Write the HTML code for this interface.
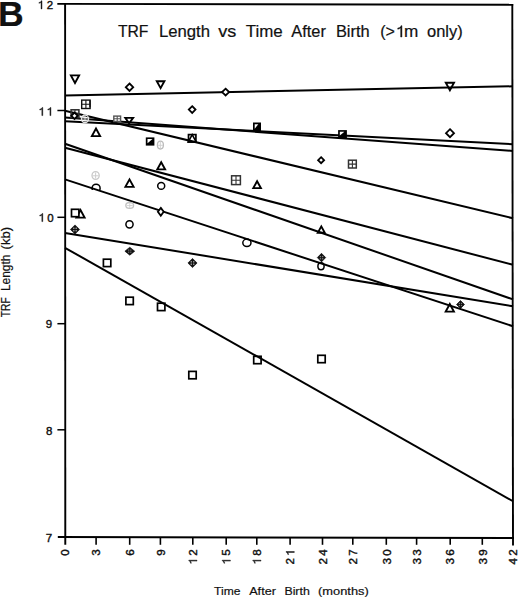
<!DOCTYPE html><html><head><meta charset="utf-8"><style>
html,body{margin:0;padding:0;background:#fff;width:520px;height:599px;overflow:hidden}
svg{display:block}text{font-family:"Liberation Sans",sans-serif;fill:#111;stroke:#111;stroke-width:0.2px}.tl{stroke-width:0.4px}
</style></head><body>
<svg width="520" height="599" viewBox="0 0 520 599">
<rect width="520" height="599" fill="#fff"/>
<text x="-2.0" y="25.8" font-size="35.6" font-weight="bold" fill="#000">B</text>
<text x="117.9" y="37.0" font-size="16" textLength="30.6" lengthAdjust="spacingAndGlyphs">TRF</text>
<text x="158.9" y="37.0" font-size="16" textLength="51.1" lengthAdjust="spacingAndGlyphs">Length</text>
<text x="218.2" y="37.0" font-size="16" textLength="18.1" lengthAdjust="spacingAndGlyphs">vs</text>
<text x="245.7" y="37.0" font-size="16" textLength="37.0" lengthAdjust="spacingAndGlyphs">Time</text>
<text x="291.3" y="37.0" font-size="16" textLength="34.6" lengthAdjust="spacingAndGlyphs">After</text>
<text x="335.9" y="37.0" font-size="16" textLength="33.8" lengthAdjust="spacingAndGlyphs">Birth</text>
<text x="380.2" y="37.0" font-size="16">(&gt;</text>
<polygon points="401.95,37.00 401.95,25.67 401.01,25.67 400.74,26.52 400.19,27.11 399.28,27.64 397.74,28.10 397.74,29.19 398.88,28.92 399.84,28.52 400.66,28.04 400.66,37.00" fill="#111" stroke="#111" stroke-width="0.45" stroke-linejoin="round"/>
<text x="404.0" y="37.0" font-size="16" textLength="14.3" lengthAdjust="spacingAndGlyphs">m</text>
<text x="427.0" y="37.0" font-size="16" textLength="35.7" lengthAdjust="spacingAndGlyphs">only)</text>
<g stroke="#000" stroke-width="1.9" fill="none" stroke-linecap="butt">
<line x1="57.3" y1="3.9" x2="513.2" y2="4.8"/>
<line x1="65.1" y1="3" x2="65.3" y2="544.8"/>
<line x1="512.3" y1="3.9" x2="513" y2="545.5"/>
<line x1="57.8" y1="537" x2="514" y2="538"/>
<line x1="57.4" y1="110.5" x2="65" y2="110.5" stroke-width="1.5"/>
<line x1="57.4" y1="217.3" x2="65" y2="217.3" stroke-width="1.5"/>
<line x1="57.4" y1="323.7" x2="65" y2="323.7" stroke-width="1.5"/>
<line x1="57.4" y1="429.8" x2="65" y2="429.8" stroke-width="1.5"/>
<line x1="96.1" y1="537" x2="96.1" y2="544.8" stroke-width="1.6"/>
<line x1="129.7" y1="537" x2="129.7" y2="544.8" stroke-width="1.6"/>
<line x1="160.4" y1="537" x2="160.4" y2="544.8" stroke-width="1.6"/>
<line x1="192.8" y1="537" x2="192.8" y2="544.8" stroke-width="1.6"/>
<line x1="226.2" y1="537" x2="226.2" y2="544.8" stroke-width="1.6"/>
<line x1="256.8" y1="537" x2="256.8" y2="544.8" stroke-width="1.6"/>
<line x1="290.1" y1="537" x2="290.1" y2="544.8" stroke-width="1.6"/>
<line x1="322.5" y1="537" x2="322.5" y2="544.8" stroke-width="1.6"/>
<line x1="352.8" y1="537" x2="352.8" y2="544.8" stroke-width="1.6"/>
<line x1="386.3" y1="537" x2="386.3" y2="544.8" stroke-width="1.6"/>
<line x1="416.6" y1="537" x2="416.6" y2="544.8" stroke-width="1.6"/>
<line x1="450.2" y1="537" x2="450.2" y2="544.8" stroke-width="1.6"/>
<line x1="482.3" y1="537" x2="482.3" y2="544.8" stroke-width="1.6"/>
</g>
<polygon points="41.98,8.90 41.98,0.76 41.30,0.76 41.10,1.37 40.71,1.79 40.06,2.17 38.95,2.51 38.95,3.29 39.77,3.09 40.46,2.80 41.05,2.46 41.05,8.90" fill="#111" stroke="#111" stroke-width="0.45" stroke-linejoin="round"/>
<text x="46.70" y="8.9" font-size="11.5" class="tl">2</text>
<polygon points="42.78,115.60 42.78,107.46 42.10,107.46 41.90,108.07 41.51,108.49 40.86,108.87 39.75,109.21 39.75,109.99 40.57,109.79 41.26,109.50 41.85,109.16 41.85,115.60" fill="#111" stroke="#111" stroke-width="0.45" stroke-linejoin="round"/>
<polygon points="50.88,115.60 50.88,107.46 50.20,107.46 50.00,108.07 49.61,108.49 48.96,108.87 47.85,109.21 47.85,109.99 48.67,109.79 49.36,109.50 49.95,109.16 49.95,115.60" fill="#111" stroke="#111" stroke-width="0.45" stroke-linejoin="round"/>
<polygon points="42.78,221.60 42.78,213.46 42.10,213.46 41.90,214.07 41.51,214.49 40.86,214.87 39.75,215.21 39.75,215.99 40.57,215.79 41.26,215.50 41.85,215.16 41.85,221.60" fill="#111" stroke="#111" stroke-width="0.45" stroke-linejoin="round"/>
<text x="47.25" y="221.6" font-size="11.5" class="tl">0</text>
<text x="52.2" y="328.4" font-size="11.5" class="tl" text-anchor="end">9</text>
<text x="52.3" y="434.5" font-size="11.5" class="tl" text-anchor="end">8</text>
<text x="52.2" y="541.6" font-size="11.5" class="tl" text-anchor="end">7</text>
<text transform="translate(69.3,549.4) rotate(-90)" font-size="11.6" class="tl" text-anchor="end">0</text>
<text transform="translate(100.3,549.4) rotate(-90)" font-size="11.6" class="tl" text-anchor="end">3</text>
<text transform="translate(133.9,549.4) rotate(-90)" font-size="11.6" class="tl" text-anchor="end">6</text>
<text transform="translate(164.6,549.4) rotate(-90)" font-size="11.6" class="tl" text-anchor="end">9</text>
<g transform="translate(197.0,549.4) rotate(-90)"><polygon points="-10.78,0.00 -10.78,-8.21 -11.47,-8.21 -11.67,-7.60 -12.06,-7.17 -12.72,-6.79 -13.83,-6.45 -13.83,-5.66 -13.01,-5.86 -12.32,-6.15 -11.72,-6.50 -11.72,0.00" fill="#111" stroke="#111" stroke-width="0.45" stroke-linejoin="round"/><text x="-6.45" y="0" font-size="11.6" class="tl">2</text></g>
<g transform="translate(230.4,549.4) rotate(-90)"><polygon points="-10.78,0.00 -10.78,-8.21 -11.47,-8.21 -11.67,-7.60 -12.06,-7.17 -12.72,-6.79 -13.83,-6.45 -13.83,-5.66 -13.01,-5.86 -12.32,-6.15 -11.72,-6.50 -11.72,0.00" fill="#111" stroke="#111" stroke-width="0.45" stroke-linejoin="round"/><text x="-6.45" y="0" font-size="11.6" class="tl">5</text></g>
<g transform="translate(261.0,549.4) rotate(-90)"><polygon points="-10.78,0.00 -10.78,-8.21 -11.47,-8.21 -11.67,-7.60 -12.06,-7.17 -12.72,-6.79 -13.83,-6.45 -13.83,-5.66 -13.01,-5.86 -12.32,-6.15 -11.72,-6.50 -11.72,0.00" fill="#111" stroke="#111" stroke-width="0.45" stroke-linejoin="round"/><text x="-6.45" y="0" font-size="11.6" class="tl">8</text></g>
<g transform="translate(294.3,549.4) rotate(-90)"><text x="-15.10" y="0" font-size="11.6" class="tl">2</text><polygon points="-2.13,0.00 -2.13,-8.21 -2.82,-8.21 -3.02,-7.60 -3.41,-7.17 -4.07,-6.79 -5.19,-6.45 -5.19,-5.66 -4.36,-5.86 -3.67,-6.15 -3.07,-6.50 -3.07,0.00" fill="#111" stroke="#111" stroke-width="0.45" stroke-linejoin="round"/></g>
<g transform="translate(326.7,549.4) rotate(-90)"><text x="-15.10" y="0" font-size="11.6" class="tl">2</text><text x="-6.45" y="0" font-size="11.6" class="tl">4</text></g>
<g transform="translate(357.0,549.4) rotate(-90)"><text x="-15.10" y="0" font-size="11.6" class="tl">2</text><text x="-6.45" y="0" font-size="11.6" class="tl">7</text></g>
<g transform="translate(390.5,549.4) rotate(-90)"><text x="-15.10" y="0" font-size="11.6" class="tl">3</text><text x="-6.45" y="0" font-size="11.6" class="tl">0</text></g>
<g transform="translate(420.8,549.4) rotate(-90)"><text x="-15.10" y="0" font-size="11.6" class="tl">3</text><text x="-6.45" y="0" font-size="11.6" class="tl">3</text></g>
<g transform="translate(454.4,549.4) rotate(-90)"><text x="-15.10" y="0" font-size="11.6" class="tl">3</text><text x="-6.45" y="0" font-size="11.6" class="tl">6</text></g>
<g transform="translate(486.5,549.4) rotate(-90)"><text x="-15.10" y="0" font-size="11.6" class="tl">3</text><text x="-6.45" y="0" font-size="11.6" class="tl">9</text></g>
<g transform="translate(517.2,549.4) rotate(-90)"><text x="-15.10" y="0" font-size="11.6" class="tl">4</text><text x="-6.45" y="0" font-size="11.6" class="tl">2</text></g>
<text x="214.1" y="594.9" font-size="11.8" textLength="26.4" lengthAdjust="spacingAndGlyphs">Time</text>
<text x="249.2" y="594.9" font-size="11.8" textLength="26.7" lengthAdjust="spacingAndGlyphs">After</text>
<text x="284.4" y="594.9" font-size="11.8" textLength="25.4" lengthAdjust="spacingAndGlyphs">Birth</text>
<text x="318.1" y="594.9" font-size="11.8" textLength="50.7" lengthAdjust="spacingAndGlyphs">(months)</text>
<text transform="translate(10.3,317.2) rotate(-90)" font-size="12" textLength="19.9" lengthAdjust="spacingAndGlyphs">TRF</text>
<text transform="translate(10.3,291.1) rotate(-90)" font-size="12" textLength="36.5" lengthAdjust="spacingAndGlyphs">Length</text>
<text transform="translate(10.3,249.4) rotate(-90)" font-size="12" textLength="22.4" lengthAdjust="spacingAndGlyphs">(kb)</text>
<g stroke="#000" stroke-width="2.0" fill="none">
<line x1="65" y1="95.4" x2="513" y2="86.3"/>
<line x1="65" y1="110.8" x2="513" y2="218.3"/>
<line x1="65" y1="117.6" x2="513" y2="150.9"/>
<line x1="65" y1="121.3" x2="513" y2="144.2"/>
<line x1="65" y1="143.7" x2="513" y2="299.4"/>
<line x1="65" y1="147.7" x2="513" y2="264.8"/>
<line x1="65" y1="179.4" x2="513" y2="326.3"/>
<line x1="65" y1="232.9" x2="513" y2="306.3"/>
<line x1="65" y1="247.8" x2="513" y2="501.25"/>
</g>
<g><polygon points="70.9,75.4 79.1,75.4 75.0,82.9" fill="none" stroke="#000" stroke-width="1.9"/><polygon points="129.5,83.5 133.2,87.2 129.5,90.9 125.8,87.2" fill="#fff" stroke="#000" stroke-width="1.8"/><polygon points="156.8,81.2 164.4,81.2 160.6,88.1" fill="none" stroke="#000" stroke-width="1.9"/><polygon points="225.6,88.7 229.1,92.1 225.6,95.5 222.1,92.1" fill="#fff" stroke="#000" stroke-width="1.8"/><polygon points="445.8,82.8 454.0,82.8 449.9,90.3" fill="none" stroke="#000" stroke-width="1.9"/><rect x="81.7" y="100.1" width="8.4" height="8.4" fill="none" stroke="#111" stroke-width="1.4"/><path d="M81.7,104.3H90.1M85.9,100.1V108.5" stroke="#111" stroke-width="1.1"/><rect x="89.3" y="100.3" width="1.4" height="7.0" fill="#111"/><polygon points="192.2,106.2 195.5,109.6 192.2,112.9 188.8,109.6" fill="#fff" stroke="#000" stroke-width="1.8"/><rect x="71.1" y="109.8" width="7.8" height="7.8" fill="none" stroke="#333" stroke-width="1.6"/><path d="M71.1,113.7H78.9M75.0,109.8V117.6" stroke="#333" stroke-width="1.1"/><polygon points="74.5,112.6 77.7,115.8 74.5,119.0 71.3,115.8" fill="#fff" stroke="#000" stroke-width="1.8"/><ellipse cx="85.0" cy="118.8" rx="3.6" ry="3.8" fill="none" stroke="#e4e4e4" stroke-width="1.3"/><path d="M82.0,119.0H88.0M85.0,115.8V121.8" stroke="#e4e4e4" stroke-width="0.9"/><rect x="113.8" y="116.1" width="6.8" height="5.4" fill="#fff" stroke="#555" stroke-width="1.4"/><path d="M113.8,118.8H120.6M117.2,116.1V121.5" stroke="#555" stroke-width="1.1"/><polygon points="125.3,117.9 133.1,117.9 129.1,123.4" fill="none" stroke="#000" stroke-width="1.9"/><polygon points="91.9,136.1 100.1,136.1 96.0,128.6" fill="none" stroke="#000" stroke-width="1.9"/><rect x="145.8" y="137.4" width="8.6" height="8.2" fill="#000"/><polygon points="147.5,139.1 152.5,139.1 147.5,143.3" fill="#fff"/><ellipse cx="160.4" cy="145.1" rx="3.0" ry="3.9" fill="none" stroke="#bcbcbc" stroke-width="1.3"/><path d="M157.8,145.3H163M160.4,142V148.2" stroke="#cfcfcf" stroke-width="0.9"/><rect x="188.5" y="134.6" width="7.4" height="7.4" fill="none" stroke="#000" stroke-width="1.7"/><polygon points="188.2,142.0 196.2,142.0 192.2,134.6" fill="none" stroke="#000" stroke-width="1.6"/><rect x="253.0" y="122.5" width="8.0" height="8.6" fill="#000"/><polygon points="254.7,124.2 258.3,124.2 254.7,128.8" fill="#fff"/><rect x="338.1" y="130.1" width="8.8" height="8.4" fill="#000"/><polygon points="339.8,131.8 344.4,131.8 339.8,135.4" fill="#fff"/><polygon points="450.0,129.2 454.0,133.2 450.0,137.2 446.0,133.2" fill="#fff" stroke="#000" stroke-width="1.8"/><polygon points="157.3,169.4 165.1,169.4 161.2,162.3" fill="none" stroke="#000" stroke-width="1.9"/><rect x="231.6" y="175.8" width="8.8" height="8.8" fill="none" stroke="#333" stroke-width="1.5"/><path d="M231.6,180.2H240.4M236.0,175.8V184.6" stroke="#333" stroke-width="1.1"/><polygon points="253.3,188.1 260.9,188.1 257.1,181.2" fill="none" stroke="#000" stroke-width="1.9"/><polygon points="321.1,157.2 324.1,160.2 321.1,163.2 318.1,160.2" fill="#fff" stroke="#000" stroke-width="1.8"/><rect x="348.5" y="160.2" width="7.8" height="7.8" fill="none" stroke="#333" stroke-width="1.5"/><path d="M348.5,164.1H356.3M352.4,160.2V168.0" stroke="#333" stroke-width="1.1"/><ellipse cx="95.6" cy="175.5" rx="3.6" ry="3.8" fill="none" stroke="#c8c8c8" stroke-width="1.3"/><path d="M92.6,175.8H98.6M95.6,172.5V178.5" stroke="#c8c8c8" stroke-width="0.9"/><polygon points="125.4,186.9 133.6,186.9 129.5,179.4" fill="none" stroke="#000" stroke-width="1.9"/><clipPath id="cc1"><rect x="85" y="175" width="25" height="15"/></clipPath><g clip-path="url(#cc1)"><ellipse cx="96.1" cy="188.2" rx="4.0" ry="4.0" fill="none" stroke="#000" stroke-width="1.5"/></g><ellipse cx="161.2" cy="185.9" rx="3.5" ry="3.3" fill="none" stroke="#000" stroke-width="1.5"/><ellipse cx="129.7" cy="205.4" rx="3.9" ry="2.9" fill="none" stroke="#c2c2c2" stroke-width="1.3"/><path d="M126.6,205.6H132.8M129.7,203V208" stroke="#d0d0d0" stroke-width="0.9"/><polygon points="160.8,207.9 163.7,211.8 160.8,215.7 157.9,211.8" fill="#fff" stroke="#000" stroke-width="1.8"/><polygon points="76.4,217.6 84.6,217.6 80.5,210.1" fill="none" stroke="#000" stroke-width="1.9"/><rect x="71.5" y="209.3" width="7.4" height="7.4" fill="#fff" stroke="#000" stroke-width="1.7"/><ellipse cx="129.5" cy="224.3" rx="3.6" ry="3.65" fill="none" stroke="#000" stroke-width="1.5"/><polygon points="75.0,224.9 79.6,229.5 75.0,234.1 70.4,229.5" fill="#111" stroke="#000" stroke-width="0.6"/><rect x="73.1" y="227.6" width="1.4" height="1.4" fill="#9a9a9a"/><rect x="73.1" y="230.0" width="1.4" height="1.4" fill="#9a9a9a"/><rect x="75.5" y="227.6" width="1.4" height="1.4" fill="#9a9a9a"/><rect x="75.5" y="230.0" width="1.4" height="1.4" fill="#9a9a9a"/><polygon points="317.8,232.8 324.8,232.8 321.3,226.4" fill="none" stroke="#000" stroke-width="1.9"/><ellipse cx="246.9" cy="242.8" rx="4.1" ry="3.7" fill="none" stroke="#000" stroke-width="1.5"/><polygon points="129.8,247.2 134.7,251.2 129.8,255.2 124.9,251.2" fill="#111" stroke="#000" stroke-width="0.6"/><rect x="128.1" y="249.5" width="1.2" height="1.2" fill="#7a7a7a"/><rect x="128.1" y="251.6" width="1.2" height="1.2" fill="#7a7a7a"/><rect x="130.2" y="249.5" width="1.2" height="1.2" fill="#7a7a7a"/><rect x="130.2" y="251.6" width="1.2" height="1.2" fill="#7a7a7a"/><rect x="103.4" y="259.2" width="7.4" height="7.4" fill="none" stroke="#000" stroke-width="1.7"/><polygon points="192.5,258.4 197.1,263.0 192.5,267.6 187.9,263.0" fill="#111" stroke="#000" stroke-width="0.6"/><rect x="190.6" y="261.1" width="1.4" height="1.4" fill="#9a9a9a"/><rect x="190.6" y="263.5" width="1.4" height="1.4" fill="#9a9a9a"/><rect x="193.0" y="261.1" width="1.4" height="1.4" fill="#9a9a9a"/><rect x="193.0" y="263.5" width="1.4" height="1.4" fill="#9a9a9a"/><polygon points="321.5,253.3 325.7,257.6 321.5,261.9 317.3,257.6" fill="#111" stroke="#000" stroke-width="0.6"/><rect x="319.8" y="255.9" width="1.3" height="1.3" fill="#7a7a7a"/><rect x="319.8" y="258.1" width="1.3" height="1.3" fill="#7a7a7a"/><rect x="322.0" y="255.9" width="1.3" height="1.3" fill="#7a7a7a"/><rect x="322.0" y="258.1" width="1.3" height="1.3" fill="#7a7a7a"/><ellipse cx="321.0" cy="266.3" rx="3.1" ry="3.5" fill="none" stroke="#000" stroke-width="1.5"/><rect x="125.9" y="297.2" width="7.4" height="7.4" fill="none" stroke="#000" stroke-width="1.7"/><rect x="157.5" y="303.2" width="7.4" height="7.4" fill="none" stroke="#000" stroke-width="1.7"/><polygon points="445.7,311.6 453.9,311.6 449.8,304.1" fill="none" stroke="#000" stroke-width="1.9"/><polygon points="460.5,300.5 464.5,304.5 460.5,308.5 456.5,304.5" fill="#111" stroke="#000" stroke-width="0.6"/><rect x="458.8" y="302.8" width="1.2" height="1.2" fill="#7a7a7a"/><rect x="458.8" y="304.9" width="1.2" height="1.2" fill="#7a7a7a"/><rect x="460.9" y="302.8" width="1.2" height="1.2" fill="#7a7a7a"/><rect x="460.9" y="304.9" width="1.2" height="1.2" fill="#7a7a7a"/><rect x="188.8" y="371.4" width="7.4" height="7.4" fill="none" stroke="#000" stroke-width="1.7"/><rect x="253.7" y="356.3" width="7.4" height="7.4" fill="none" stroke="#000" stroke-width="1.7"/><rect x="317.8" y="355.3" width="7.4" height="7.4" fill="none" stroke="#000" stroke-width="1.7"/></g>
</svg></body></html>
